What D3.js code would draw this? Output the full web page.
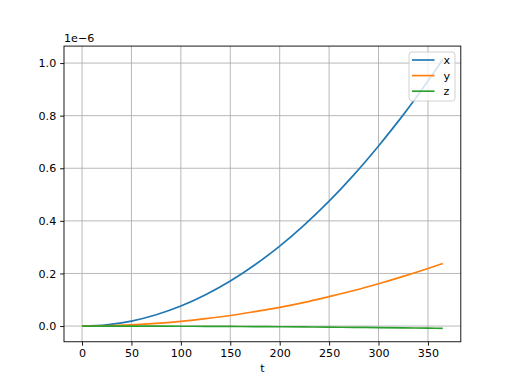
<!DOCTYPE html>
<html>
<head>
<meta charset="utf-8">
<script src="https://cdn.jsdelivr.net/npm/d3@7"></script>
<style>
  body { margin: 0; background: #fff; }
  svg { display: block; font-family: "DejaVu Sans", sans-serif; }
</style>
</head>
<body>
<div id="container"></div>
<script>
// valores (unidade 1e-6)
var tempos  = [0, 25, 50, 75, 100, 125, 150, 175, 200, 225, 250, 275, 300, 325, 350, 365];
var serieX  = [0, 0.0048, 0.019, 0.043, 0.076, 0.119, 0.171, 0.233, 0.304, 0.385, 0.475, 0.575, 0.685, 0.803, 0.932, 1.0135];
var serieY  = [0, 0.0011, 0.0045, 0.010, 0.018, 0.028, 0.040, 0.055, 0.071, 0.090, 0.112, 0.135, 0.161, 0.189, 0.219, 0.238];
var serieZ  = [0, 0, -0.0002, -0.0004, -0.0006, -0.001, -0.0015, -0.002, -0.0026, -0.0033, -0.004, -0.0049, -0.0058, -0.0068, -0.0079, -0.0086];
var nomes   = ["x", "y", "z"];
var cores   = ["#1f77b4", "#ff7f0e", "#2ca02c"];
var ticksX  = [0, 50, 100, 150, 200, 250, 300, 350];
var ticksY  = [0, 0.2, 0.4, 0.6, 0.8, 1.0];

var w = 512, h = 384;
var esq = 64, dir = 460.8, topo = 46.08, base = 341.76;

var svg = d3.select("div#container")
            .append("svg")
            .attr("width", w)
            .attr("height", h);

// escalas com margem de 5% como o matplotlib
var tMin = d3.min(tempos), tMax = d3.max(tempos);
var vMin = d3.min(serieZ.concat(serieX, serieY)), vMax = d3.max(serieX.concat(serieY, serieZ));
var mt = (tMax - tMin) * 0.05, mv = (vMax - vMin) * 0.05;
var x = d3.scaleLinear().domain([tMin - mt, tMax + mt]).range([esq, dir]);
var y = d3.scaleLinear().domain([vMin - mv, vMax + mv]).range([base, topo]);

svg.append("clipPath").attr("id", "clip")
   .append("rect").attr("x", esq).attr("y", topo).attr("width", dir - esq).attr("height", base - topo);

// grade
var grade = svg.append("g").attr("stroke", "#b0b0b0").attr("stroke-width", 0.9);
grade.selectAll(".gx").data(ticksX).enter().append("line")
     .attr("x1", function(d){ return x(d); }).attr("x2", function(d){ return x(d); })
     .attr("y1", topo).attr("y2", base);
grade.selectAll(".gy").data(ticksY).enter().append("line")
     .attr("y1", function(d){ return y(d); }).attr("y2", function(d){ return y(d); })
     .attr("x1", esq).attr("x2", dir);

// linhas
var series = [serieX, serieY, serieZ];
var linha = d3.line()
              .x(function(d, i){ return x(tempos[i]); })
              .y(function(d){ return y(d); })
              .curve(d3.curveMonotoneX);
svg.append("g").attr("clip-path", "url(#clip)")
   .selectAll("path").data(series).enter().append("path")
   .attr("d", linha)
   .attr("fill", "none")
   .attr("stroke", function(d, i){ return cores[i]; })
   .attr("stroke-width", 1.67);

// eixos
var eixoX = d3.axisBottom(x).tickValues(ticksX).tickSize(3.9).tickPadding(3.9).tickFormat(d3.format("d"));
var eixoY = d3.axisLeft(y).tickValues(ticksY).tickSize(3.9).tickPadding(3.9).tickFormat(d3.format(".1f"));
var gx = svg.append("g").attr("transform", "translate(0," + base + ")").call(eixoX);
var gy = svg.append("g").attr("transform", "translate(" + esq + ",0)").call(eixoY);
[gx, gy].forEach(function(g){
    g.select(".domain").remove();
    g.selectAll(".tick line").attr("stroke", "#000").attr("stroke-width", 0.9);
    g.selectAll(".tick text").attr("fill", "#000").style("font-size", "11.1px").style("font-family", "DejaVu Sans");
});

// moldura
svg.append("rect").attr("x", esq).attr("y", topo).attr("width", dir - esq).attr("height", base - topo)
   .attr("fill", "none").attr("stroke", "#000").attr("stroke-width", 0.9);

// textos
svg.append("text").attr("x", (esq + dir) / 2).attr("y", 372)
   .attr("text-anchor", "middle").style("font-size", "11.1px").text("t");
svg.append("text").attr("x", esq).attr("y", 42)
   .style("font-size", "11.1px").text("1e\u22126");

// legenda
var leg = svg.append("g");
leg.append("rect").attr("x", 409).attr("y", 52).attr("width", 46).attr("height", 49)
   .attr("rx", 3).attr("fill", "#fff").attr("fill-opacity", 0.8)
   .attr("stroke", "#cccccc").attr("stroke-width", 0.9);
nomes.forEach(function(n, i){
    var ly = 60 + i * 15.6;
    leg.append("line").attr("x1", 412).attr("x2", 434.5).attr("y1", ly).attr("y2", ly)
       .attr("stroke", cores[i]).attr("stroke-width", 1.67);
    leg.append("text").attr("x", 443.5).attr("y", ly + 4)
       .style("font-size", "11.1px").text(n);
});
</script>
</body>
</html>
